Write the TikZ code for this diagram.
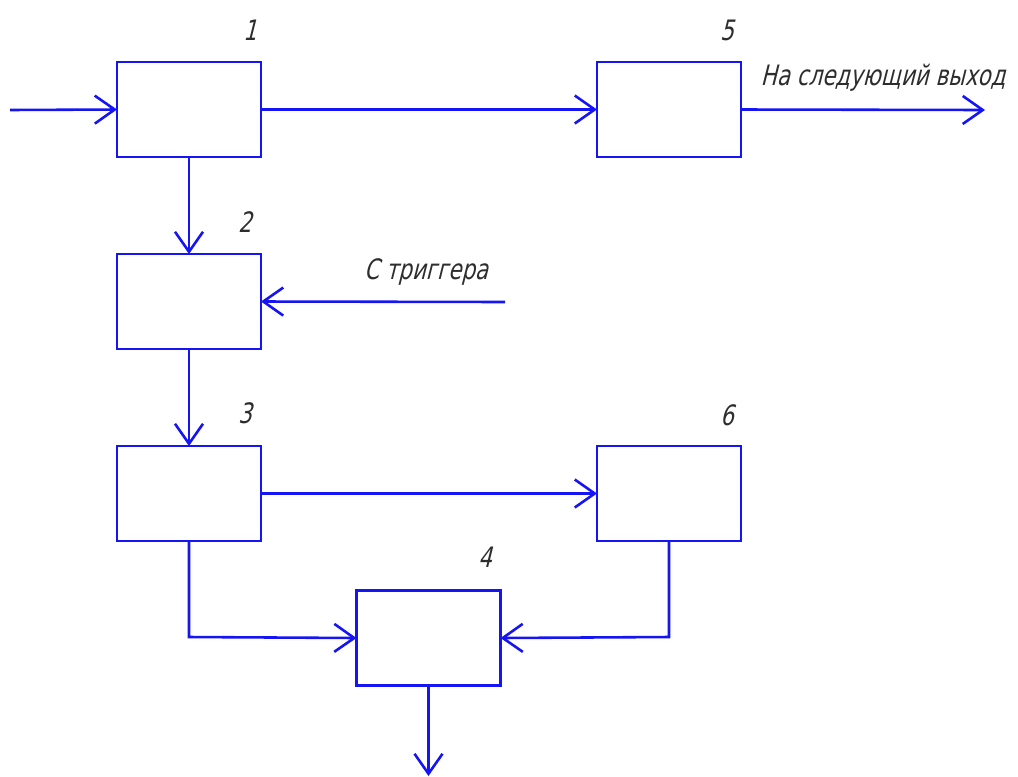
\documentclass[tikz,border=0pt]{standalone}
\usepackage{fontspec}
\newfontfamily\gost[FakeSlant=0.25,FakeStretch=0.76]{DejaVu Sans}
\usetikzlibrary{arrows.meta}
\definecolor{lineblue}{RGB}{20,20,245}
\definecolor{txt}{RGB}{45,45,45}
\tikzset{
  blk/.style={draw=lineblue, line width=2.5pt, fill=white, minimum width=4.32cm, minimum height=2.85cm, inner sep=0pt, outer sep=0pt},
  conn/.style={draw=lineblue, line width=2.2pt, -{Straight Barb[length=0.6cm,width=0.84cm,line width=2.2pt]}},
  lbl/.style={text=txt, font=\gost\fontsize{24}{28}\selectfont, inner sep=0pt}
}
\begin{document}
\begin{tikzpicture}[x=0.03cm,y=-0.03cm]
\useasboundingbox (0,0) rectangle (1018,776);
\node[blk] (b1) at (189,109.5) {};
\node[blk] (b5) at (669,109.5) {};
\node[blk] (b2) at (189,301.5) {};
\node[blk] (b3) at (189,493.5) {};
\node[blk] (b6) at (669,493.5) {};
\node[blk] (b4) at (428.5,638) {};
\node[lbl] (l1) at (250,30) {1};
\node[lbl] (l5) at (727,30) {5};
\node[lbl] (l2) at (245,222) {2};
\node[lbl] (l3) at (245,413) {3};
\node[lbl] (l6) at (727,415) {6};
\node[lbl] (l4) at (485,557) {4};
\node[lbl] (tout) at (883,78) {На следующий выход};
\node[lbl] (ttrig) at (426,272) {С триггера};
\coordinate (in) at (10,110);
\coordinate (out) at (985,110);
\coordinate (trig) at (505,302);
\coordinate (bot) at (428.5,776);
\coordinate (c3) at (189,637);
\coordinate (c6) at (669,637);
\draw[conn] (in) -- (b1.west);
\draw[conn] (b1.east) -- (b5.west);
\draw[conn] (b5.east) -- (out);
\draw[conn] (b1.south) -- (b2.north);
\draw[conn] (trig) -- (b2.east);
\draw[conn] (b2.south) -- (b3.north);
\draw[conn] (b3.east) -- (b6.west);
\draw[conn] (b3.south) -- (c3) -- (b4.west);
\draw[conn] (b6.south) -- (c6) -- (b4.east);
\draw[conn] (b4.south) -- (bot);
\end{tikzpicture}
\end{document}
